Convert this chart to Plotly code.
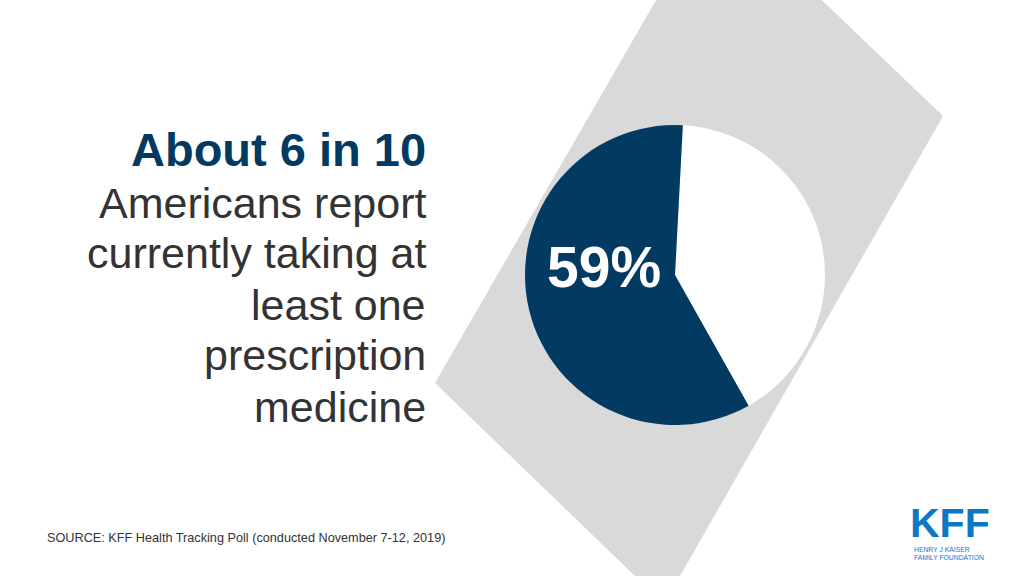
import plotly.graph_objects as go

W, H = 1024, 576

# ---- data ----
slice_labels = ["Not currently taking", "Currently taking at least one prescription medicine"]
slice_values = [41, 59]
slice_colors = ["#ffffff", "#023a62"]

headline = "About 6 in 10"
body_lines = ["Americans report", "currently taking at", "least one", "prescription", "medicine"]
source_text = "SOURCE: KFF Health Tracking Poll (conducted November 7-12, 2019)"
logo_lines = ["HENRY J KAISER", "FAMILY FOUNDATION"]

# background parallelogram vertices (pixels)
bg_x = [715, 943, 664, 435]
bg_y = [-102, 116, 604, 383]

def px(x):
    return x / W

def py(y):
    return 1 - y / H

fig = go.Figure()

fig.add_trace(go.Pie(
    labels=slice_labels,
    values=slice_values,
    marker=dict(colors=slice_colors, line=dict(width=0)),
    sort=False,
    direction="clockwise",
    rotation=3,
    textinfo="none",
    hoverinfo="label+percent",
    showlegend=False,
    domain=dict(x=[px(525), px(825)], y=[py(425), py(125)]),
))

path = "M " + " L ".join(f"{px(x):.5f},{py(y):.5f}" for x, y in zip(bg_x, bg_y)) + " Z"
fig.add_shape(type="path", xref="paper", yref="paper", path=path,
              fillcolor="#d9d9d9", line=dict(width=0), layer="below")

FONT = "Liberation Sans, Arial, sans-serif"
ann = []
ann.append(dict(text=f"<b>{slice_values[1]}%</b>", x=px(604), y=py(267), xref="paper", yref="paper",
                xanchor="center", yanchor="middle", showarrow=False,
                font=dict(family=FONT, size=57, color="#ffffff")))
ann.append(dict(text=f"<b>{headline}</b>", x=px(428), y=py(149), xref="paper", yref="paper",
                xanchor="right", yanchor="middle", showarrow=False,
                font=dict(family=FONT, size=47, color="#023a62")))
centers = [203, 253, 305, 355, 407]
for line, cy in zip(body_lines, centers):
    ann.append(dict(text=line, x=px(428), y=py(cy), xref="paper", yref="paper",
                    xanchor="right", yanchor="middle", showarrow=False,
                    font=dict(family=FONT, size=43, color="#333333")))
ann.append(dict(text=source_text, x=px(45), y=py(538), xref="paper", yref="paper",
                xanchor="left", yanchor="middle", showarrow=False,
                font=dict(family=FONT, size=12.7, color="#333333")))
# logo
ann.append(dict(text="<b>KFF</b>", x=px(950), y=py(523), xref="paper", yref="paper",
                xanchor="center", yanchor="middle", showarrow=False, borderpad=0,
                font=dict(family=FONT, size=41, color="#0b78c4")))
for line, cy in zip(logo_lines, [549.5, 557]):
    ann.append(dict(text=line, x=px(913), y=py(cy), xref="paper", yref="paper",
                    xanchor="left", yanchor="middle", showarrow=False, borderpad=0,
                    font=dict(family=FONT, size=6.8, color="#0b78c4")))

fig.update_layout(
    width=W, height=H,
    margin=dict(l=0, r=0, t=0, b=0),
    paper_bgcolor="#ffffff",
    plot_bgcolor="#ffffff",
    annotations=ann,
)

fig.write_html("out.html", config={"displayModeBar": False},
               post_script="document.body.style.margin='0px';")
